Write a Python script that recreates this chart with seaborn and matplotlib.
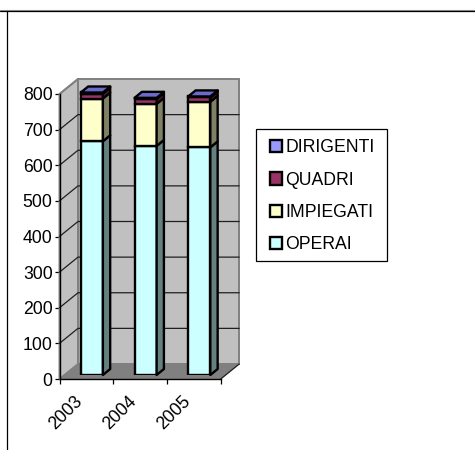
import matplotlib
matplotlib.use("Agg")
import matplotlib.pyplot as plt
from matplotlib.lines import Line2D
from matplotlib.patches import Polygon, Rectangle
from matplotlib.transforms import ScaledTranslation
import seaborn as sns

YEARS = ["2003", "2004", "2005"]
SERIES = ["OPERAI", "IMPIEGATI", "QUADRI", "DIRIGENTI"]
OPERAI = [656, 643, 639]
IMPIEGATI = [120, 118, 128]
QUADRI = [14, 14, 12]
DIRIGENTI = [3, 3, 3]
VALUES = [OPERAI, IMPIEGATI, QUADRI, DIRIGENTI]
FRONT = ["#CCFFFF", "#FFFFCC", "#993366", "#9999FF"]
SIDE = ["#668080", "#808066", "#4D1A33", "#4D4D80"]
TOP_COLOR = "#6B6BCF"
YTICKS = list(range(0, 801, 100))

W, H = 475, 450
sns.set_theme(style="white")
plt.rcParams["font.family"] = ["Liberation Sans", "DejaVu Sans"]
plt.rcParams["text.color"] = "black"
plt.rcParams["xtick.color"] = "black"
plt.rcParams["ytick.color"] = "black"
FS = 12.7


def box(left, top, right, bottom):
    """Axes rectangle from pixel edges measured from the top-left corner."""
    return [left / W, 1 - bottom / H, (right - left) / W, (bottom - top) / H]


fig = plt.figure(figsize=(W / 100, H / 100), dpi=100, facecolor="white")

# Outer chart frame: open on the right and bottom
fig.add_artist(Line2D([0, 1], [1 - 10.3 / H] * 2, color="#999999", lw=0.8))
fig.add_artist(Line2D([0, 1], [1 - 11.3 / H] * 2, color="black", lw=0.9))
fig.add_artist(Line2D([7.3 / W] * 2, [0, 1 - 11 / H], color="black", lw=0.9))

# Front plane of the 3D box carries the axes
ax = fig.add_axes(box(59.5, 94, 220.7, 379))
ax.set_xlim(-0.5, 2.5)
ax.set_ylim(0, 800)
ax.patch.set_alpha(0)
PX_X = 3 / 161.2
PX_Y = 800 / 285
dx, dy = 18.5 * PX_X, 15 * PX_Y
x0, x1 = -0.5, 2.5

wall_kw = dict(closed=True, clip_on=False, edgecolor="#808080", linewidth=1.4)
ax.add_patch(Polygon([(x0 + dx, dy), (x1 + dx, dy), (x1 + dx, 800 + dy), (x0 + dx, 800 + dy)],
                     facecolor="#C0C0C0", zorder=1, **wall_kw))
ax.add_patch(Polygon([(x0, 0), (x0 + dx, dy), (x0 + dx, 800 + dy), (x0, 800)],
                     facecolor="#C0C0C0", zorder=1, **wall_kw))
ax.add_patch(Polygon([(x0, 0), (x1, 0), (x1 + dx, dy), (x0 + dx, dy)],
                     facecolor="#808080", zorder=1.5, closed=True, clip_on=False,
                     edgecolor="#808080", linewidth=0.5))
ax.plot([x1, x1 + dx], [0, dy], color="#202020", lw=0.9, clip_on=False, zorder=1.6)

# Gridlines run across the left and back walls
for v in YTICKS[1:-1]:
    ax.plot([x0, x0 + dx, x1 + dx], [v, v + dy, v + dy], color="#202020", lw=0.9,
            clip_on=False, zorder=1.2)
ax.plot([x0, x0 + dx], [800, 800 + dy], color="#808080", lw=1.2, clip_on=False, zorder=1.2)

for side in ("top", "right"):
    ax.spines[side].set_visible(False)
for side in ("left", "bottom"):
    ax.spines[side].set_color("black")
    ax.spines[side].set_linewidth(1.0)
    ax.spines[side].set_zorder(3)

ax.set_yticks(YTICKS)
ax.set_yticklabels([str(v) for v in YTICKS], fontsize=FS)
ax.set_xticks(range(3))
shift = ScaledTranslation(-4 / 100, 0, fig.dpi_scale_trans)
ax.set_xticklabels(YEARS, fontsize=FS, rotation=45, ha="right")
for lab in ax.get_xticklabels():
    lab.set_transform(lab.get_transform() + shift)
ax.set_xticks([-0.5, 0.5, 1.5, 2.5], minor=True)
ax.tick_params(axis="y", which="major", length=3.5, width=0.9, pad=1.5, left=True)
ax.tick_params(axis="x", which="major", length=0, pad=10)
ax.tick_params(axis="x", which="minor", length=3.5, width=0.9, bottom=True)

# Bars sit slightly inside the box, so they get their own shifted axes
axb = fig.add_axes(box(65, 90, 226.2, 375))
axb.patch.set_alpha(0)
EDGE = 1.7
bottom = [0, 0, 0]
for vals, col, name in zip(VALUES, FRONT, SERIES):
    sns.barplot(x=YEARS, y=vals, ax=axb, color=col, saturation=1, width=0.41,
                bottom=bottom, edgecolor="black", linewidth=EDGE, errorbar=None,
                label=name, legend=False, zorder=4)
    bottom = [b + v for b, v in zip(bottom, vals)]
axb.set_xlim(-0.5, 2.5)
axb.set_ylim(0, 800)
axb.axis("off")

# Extrude each stacked segment sideways; only the uppermost one shows a top face
bx, by = 7.3 * PX_X, 6 * PX_Y
face_kw = dict(closed=True, edgecolor="black", linewidth=EDGE, clip_on=False,
               joinstyle="round", zorder=4)
for s, cont in enumerate(axb.containers):
    for rect in cont.patches:
        xl, xr = rect.get_x(), rect.get_x() + rect.get_width()
        yb, yt = rect.get_y(), rect.get_y() + rect.get_height()
        axb.add_patch(Polygon([(xr, yb), (xr + bx, yb + by), (xr + bx, yt + by), (xr, yt)],
                              facecolor=SIDE[s], **face_kw))
        if s == len(SERIES) - 1:
            axb.add_patch(Polygon([(xl, yt), (xr, yt), (xr + bx, yt + by), (xl + bx, yt + by)],
                                  facecolor=TOP_COLOR, **face_kw))

# Legend frame and entries are placed separately for exact padding
fig.add_artist(Rectangle((255.5 / W, 1 - 260.5 / H), 131.5 / W, 131.5 / H,
                         transform=fig.transFigure, facecolor="white",
                         edgecolor="black", linewidth=0.9, zorder=5))
handles = [cont.patches[0] for cont in axb.containers][::-1]
leg = fig.legend(handles, SERIES[::-1], loc="upper left",
                 bbox_to_anchor=(270 / W, 1 - 139.5 / H), bbox_transform=fig.transFigure,
                 fontsize=FS, frameon=False, borderaxespad=0, borderpad=0,
                 handlelength=0.68, handleheight=0.68, handletextpad=0.2, labelspacing=0.86)
leg.set_zorder(6)

fig.savefig("out.png", dpi=100)
